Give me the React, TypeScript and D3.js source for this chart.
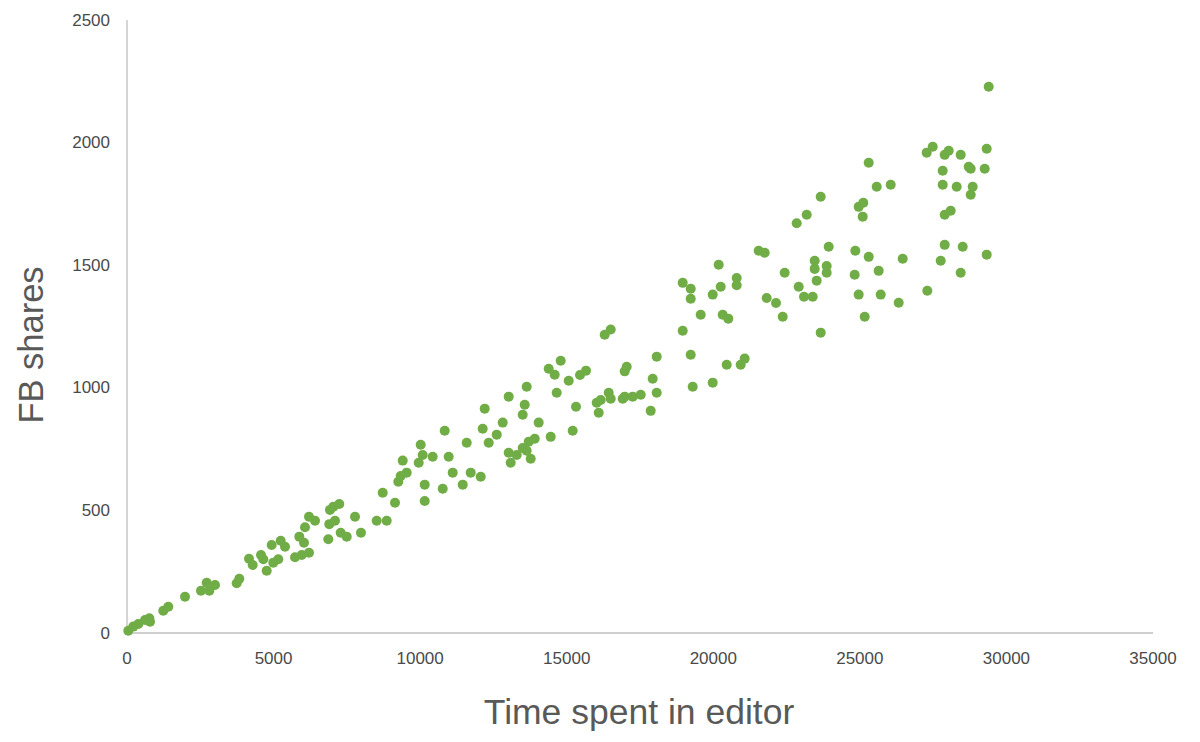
import React from "react";
import * as d3 from "d3";

const timeSpent: number[] = [
  44, 215, 385, 614, 761, 785, 1238, 1409, 1979, 2524, 2719, 2808, 3002, 3742, 3831,
  4162, 4288, 4571, 4650, 4766, 4936, 4991, 5161, 5243, 5390, 5731, 5878, 5960, 6038, 6209,
  6072, 6209, 6413, 6867, 6901, 6925, 7096, 7038, 7242, 7290, 7495, 7778, 7982, 8518, 8859,
  8723, 9142, 9255, 9405, 9337, 9541, 9951, 10087, 10019, 10428, 10156, 10156, 10770, 10974, 10838,
  11111, 11452, 11588, 11725, 12066, 12134, 12202, 12339, 12612, 12816, 13021, 13021, 13089, 13294, 13498,
  13498, 13567, 13635, 13635, 13703, 13771, 13908, 14044, 14385, 14590, 14795, 14453, 14658, 15068, 15204,
  15317, 15453, 19571, 20321, 20512, 21822, 22139, 22368, 16501, 16296, 18957, 15658, 16091, 16023, 16160,
  16433, 16501, 16910, 16978, 17251, 17524, 17046, 16978, 17933, 18070, 18070, 17865, 19230, 19298, 19980,
  20458, 20935, 21071, 22845, 25097, 21549, 21754, 23937, 24845, 25302, 26462, 20185, 23459, 23459, 23868,
  23868, 22436, 24823, 25642, 18957, 19230, 19230, 19980, 20253, 20799, 20799, 22914, 23527, 23095, 23391,
  24960, 25711, 26325, 27301, 25165, 23664, 29395, 27485, 27280, 28031, 27894, 28440, 29327, 27826, 28713,
  28781, 29259, 26052, 25575, 27826, 28303, 28849, 28781, 28099, 27894, 27894, 28508, 29327, 27758, 28440,
  25302, 23664, 23187, 24960, 25117,
];

const fbShares: number[] = [
  9, 26, 37, 53, 60, 46, 91, 107, 148, 172, 205, 172, 196, 203, 221,
  303, 277, 318, 301, 254, 359, 287, 301, 376, 352, 309, 393, 318, 368, 327,
  431, 474, 458, 382, 444, 502, 458, 515, 526, 409, 393, 474, 409, 458, 458,
  572, 531, 617, 703, 640, 654, 694, 726, 768, 719, 605, 538, 588, 719, 825,
  654, 605, 776, 654, 637, 833, 915, 776, 809, 858, 964, 735, 694, 726, 754,
  890, 931, 1004, 743, 780, 711, 792, 858, 1078, 1053, 1110, 800, 980, 1029, 825,
  923, 1052, 1298, 1298, 1282, 1366, 1346, 1290, 1238, 1216, 1233, 1070, 898, 939, 950,
  980, 955, 955, 964, 964, 972, 1086, 1067, 1037, 1127, 980, 906, 1135, 1004, 1021,
  1094, 1094, 1119, 1671, 1698, 1559, 1551, 1575, 1559, 1534, 1526, 1502, 1518, 1485, 1497,
  1469, 1469, 1461, 1477, 1428, 1404, 1363, 1380, 1412, 1448, 1418, 1412, 1437, 1371, 1371,
  1380, 1380, 1347, 1396, 1290, 1225, 2228, 1983, 1959, 1967, 1950, 1950, 1975, 1885, 1901,
  1893, 1893, 1828, 1820, 1828, 1820, 1820, 1787, 1722, 1706, 1583, 1575, 1543, 1518, 1469,
  1918, 1779, 1706, 1738, 1755,
];

const xTicks: number[] = [0, 5000, 10000, 15000, 20000, 25000, 30000, 35000];
const yTicks: number[] = [0, 500, 1000, 1500, 2000, 2500];

const xTitle = "Time spent in editor";
const yTitle = "FB shares";

export default function App() {
  const W = 1200;
  const H = 742;
  const left = 127;
  const right = 1153;
  const top = 20;
  const bottom = 633;

  const x = d3.scaleLinear().domain([0, 35000]).range([left, right]);
  const y = d3.scaleLinear().domain([0, 2500]).range([bottom, top]);

  const points = timeSpent.map((t, i) => ({ t, s: fbShares[i] }));
  const font = "'Liberation Sans', Arial, Helvetica, sans-serif";
  const textColor = "#595959";
  const tickColor = "#4a4a4a";
  const axisColor = "#bfbfbf";

  return (
    <svg
      width={W}
      height={H}
      style={{ position: "absolute", left: 0, top: 0, background: "#fff" }}
    >
      <rect x={0} y={0} width={W} height={H} fill="#fff" />
      <line x1={left} x2={left} y1={y(2500)} y2={bottom} stroke={axisColor} strokeWidth={1.3} />
      <line x1={left} x2={right} y1={bottom} y2={bottom} stroke={axisColor} strokeWidth={1.3} />
      {yTicks.map((v) => (
        <text
          key={"y" + v}
          x={110}
          y={y(v)}
          textAnchor="end"
          dominantBaseline="central"
          fontFamily={font}
          fontSize={17}
          fill={tickColor}
        >
          {v}
        </text>
      ))}
      {xTicks.map((v) => (
        <text
          key={"x" + v}
          x={x(v)}
          y={658}
          textAnchor="middle"
          dominantBaseline="central"
          fontFamily={font}
          fontSize={17}
          fill={tickColor}
        >
          {v}
        </text>
      ))}
      {points.map((p, i) => (
        <circle key={i} cx={x(p.t)} cy={y(p.s)} r={5} fill="#70ad47" />
      ))}
      <text
        x={639}
        y={712}
        textAnchor="middle"
        dominantBaseline="central"
        fontFamily={font}
        fontSize={35.5}
        fill={textColor}
      >
        {xTitle}
      </text>
      <text
        transform={`translate(31, 345) rotate(-90)`}
        textAnchor="middle"
        dominantBaseline="central"
        fontFamily={font}
        fontSize={34.5}
        fill={textColor}
      >
        {yTitle}
      </text>
    </svg>
  );
}
